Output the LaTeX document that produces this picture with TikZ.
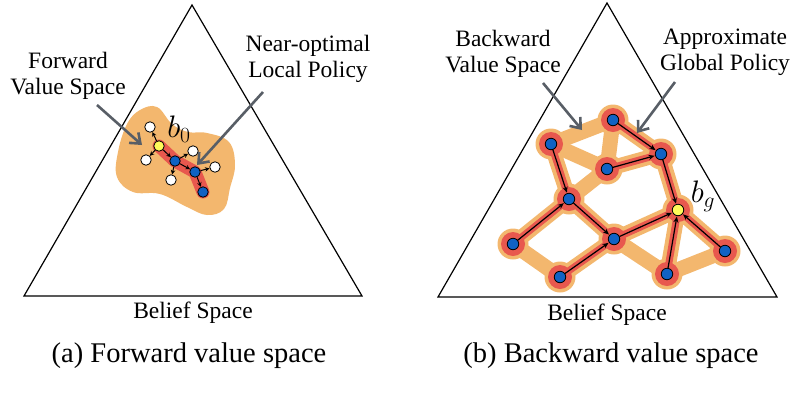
\documentclass[tikz,border=0pt]{standalone}
\usepackage{fontspec}
\setmainfont{Liberation Serif}
\usetikzlibrary{arrows.meta}
\definecolor{borange}{RGB}{243,183,110}
\definecolor{bred}{RGB}{232,88,78}
\definecolor{bblue}{RGB}{16,98,196}
\definecolor{byellow}{RGB}{255,250,90}
\definecolor{bgray}{RGB}{88,94,102}
\tikzset{
  tri/.style={draw=black, line width=1.2pt, line join=miter},
  lbl/.style={font=\fontsize{23.5}{27}\selectfont, align=center, inner sep=0pt},
  captext/.style={font=\fontsize{28.5}{32}\selectfont, inner sep=0pt},
  mathlbl/.style={font=\fontsize{24}{28}\selectfont, inner sep=0pt, scale=1.25},
  callout/.style={draw=bgray, line width=2.6pt, -{Straight Barb[length=9pt,width=14pt,line width=2.6pt]}},
  band/.style={draw=borange, line width=15pt, line cap=round, line join=round},
  redband/.style={draw=bred, line width=7pt, line cap=round, line join=round},
  bnode/.style={circle, draw=black, line width=0.8pt, fill=bblue, minimum size=11.5pt, inner sep=0pt},
  ynode/.style={circle, draw=black, line width=0.8pt, fill=byellow, minimum size=11.5pt, inner sep=0pt},
  wnode/.style={circle, draw=black, line width=0.8pt, fill=white, minimum size=11.5pt, inner sep=0pt},
  sbnode/.style={bnode, minimum size=10.5pt},
  synode/.style={ynode, minimum size=10.5pt},
  swnode/.style={wnode, minimum size=10.5pt},
  arr/.style={draw=black, line width=1.2pt, -{Stealth[length=6pt,width=5pt]}, shorten >=0.5pt},
  sarr/.style={draw=black, line width=1pt, -{Stealth[length=4.5pt,width=4.5pt]}},
}
\begin{document}
\begin{tikzpicture}[x=1pt,y=-1pt]
\useasboundingbox (0,0) rectangle (793,392);

% ---------------- Left panel ----------------
\coordinate (T1a) at (192,5);
\coordinate (T1b) at (24,296);
\coordinate (T1c) at (362,296);
\draw[tri] (T1a) -- (T1b) -- (T1c) -- cycle;

\fill[borange] plot[smooth cycle, tension=0.65] coordinates {
 (140,110) (157,107) (172,124) (188,132) (207,133) (229,142) (235,165)
 (230,188) (224,209) (207,215) (187,207) (160,194) (133,192) (117,177)
 (118,152) (127,124)};

\coordinate (py0) at (159,146);
\coordinate (pl1) at (175,161);
\coordinate (pl2) at (195,172);
\coordinate (pl3) at (203,192);
\draw[draw=bred, line width=13pt, line cap=round, line join=round]
  (py0) -- (pl1) -- (pl2) -- (pl3);

\node[synode] (y0) at (py0) {};
\node[sbnode] (l1) at (pl1) {};
\node[sbnode] (l2) at (pl2) {};
\node[sbnode] (l3) at (pl3) {};
\node[swnode] (w1) at (150,127) {};
\node[swnode] (w2) at (146,160) {};
\node[swnode] (w3) at (171,180) {};
\node[swnode] (w4) at (193,151) {};
\node[swnode] (w5) at (215,167) {};

\draw[sarr] (y0) -- (w1);
\draw[sarr] (y0) -- (w2);
\draw[sarr] (y0) -- (l1);
\draw[sarr] (l1) -- (w3);
\draw[sarr] (l1) -- (w4);
\draw[sarr] (l1) -- (l2);
\draw[sarr] (l2) -- (w5);
\draw[sarr] (l2) -- (l3);

\node[mathlbl] (b0) at (179,129) {$b_0$};

\node[lbl] (fvs) at (68,76) {Forward\\[-1pt]Value Space};
\node[lbl] (nol) at (308,59) {Near-optimal\\[-1pt]Local Policy};
\coordinate (fvsS) at (97,105);
\coordinate (fvsE) at (142,145);
\coordinate (nolS) at (263,92);
\coordinate (nolE) at (197,165);
\draw[callout] (fvsS) -- (fvsE);
\draw[callout] (nolS) -- (nolE);

\node[lbl] (bs1) at (193,313) {Belief Space};
\node[captext] (capa) at (189,356) {(a) Forward value space};

% ---------------- Right panel ----------------
\coordinate (T2a) at (607,3);
\coordinate (T2b) at (438,297);
\coordinate (T2c) at (777,297);
\draw[tri] (T2a) -- (T2b) -- (T2c) -- cycle;

\coordinate (pA) at (551,144);
\coordinate (pB) at (613,120);
\coordinate (pC) at (661,154);
\coordinate (pD) at (607,169);
\coordinate (pE) at (569,199);
\coordinate (pF) at (678,210);
\coordinate (pG) at (513,244);
\coordinate (pH) at (614,239);
\coordinate (pI) at (560,277);
\coordinate (pJ) at (667,274);
\coordinate (pK) at (725,251);

% orange value-space bands
\draw[band] (pA) -- (pB);
\draw[band] (pA) -- (pD);
\draw[band] (pB) -- (pD);
\draw[band] (pB) -- (pC);
\draw[band] (pD) -- (pC);
\draw[band] (pA) -- (pE);
\draw[band] (pD) -- (pE);
\draw[band] (pE) -- (pG);
\draw[band] (pE) -- (pH);
\draw[band] (pG) -- (pI);
\draw[band] (pI) -- (pH);
\draw[band] (pH) -- (pF);
\draw[band] (pH) -- (pJ);
\draw[band] (pJ) -- (pF);
\draw[band] (pJ) -- (pK);
\draw[band] (pK) -- (pF);
\draw[band] (pC) -- (pF);

% halos
\foreach \p in {pA,pB,pC,pD,pE,pF,pG,pH,pI,pJ,pK}
  \fill[borange] (\p) circle (15.5pt);
\foreach \p in {pA,pB,pC,pD,pE,pF,pG,pH,pI,pJ,pK}
  \fill[bred] (\p) circle (12pt);

% red policy edges
\draw[redband] (pA) -- (pE);
\draw[redband] (pG) -- (pE);
\draw[redband] (pE) -- (pH);
\draw[redband] (pI) -- (pH);
\draw[redband] (pH) -- (pF);
\draw[redband] (pB) -- (pC);
\draw[redband] (pD) -- (pC);
\draw[redband] (pC) -- (pF);
\draw[redband] (pJ) -- (pF);
\draw[redband] (pK) -- (pF);

\node[bnode] (A) at (pA) {};
\node[bnode] (B) at (pB) {};
\node[bnode] (C) at (pC) {};
\node[bnode] (D) at (pD) {};
\node[bnode] (E) at (pE) {};
\node[ynode] (F) at (pF) {};
\node[bnode] (G) at (pG) {};
\node[bnode] (H) at (pH) {};
\node[bnode] (I) at (pI) {};
\node[bnode] (J) at (pJ) {};
\node[bnode] (K) at (pK) {};

\draw[arr] (A) -- (E);
\draw[arr] (G) -- (E);
\draw[arr] (E) -- (H);
\draw[arr] (I) -- (H);
\draw[arr] (H) -- (F);
\draw[arr] (B) -- (C);
\draw[arr] (D) -- (C);
\draw[arr] (C) -- (F);
\draw[arr] (J) -- (F);
\draw[arr] (K) -- (F);

\node[mathlbl] (bg) at (703,196) {$b_g$};

\node[lbl] (bvs) at (503,54) {Backward\\[-1pt]Value Space};
\node[lbl] (agp) at (725,52) {Approximate\\[-1pt]Global Policy};
\coordinate (bvsS) at (543,83);
\coordinate (bvsE) at (582,130);
\coordinate (agpS) at (675,82);
\coordinate (agpE) at (637,133);
\draw[callout] (bvsS) -- (bvsE);
\draw[callout] (agpS) -- (agpE);

\node[lbl] (bs2) at (607,315) {Belief Space};
\node[captext] (capb) at (611,356) {(b) Backward value space};
\end{tikzpicture}
\end{document}
